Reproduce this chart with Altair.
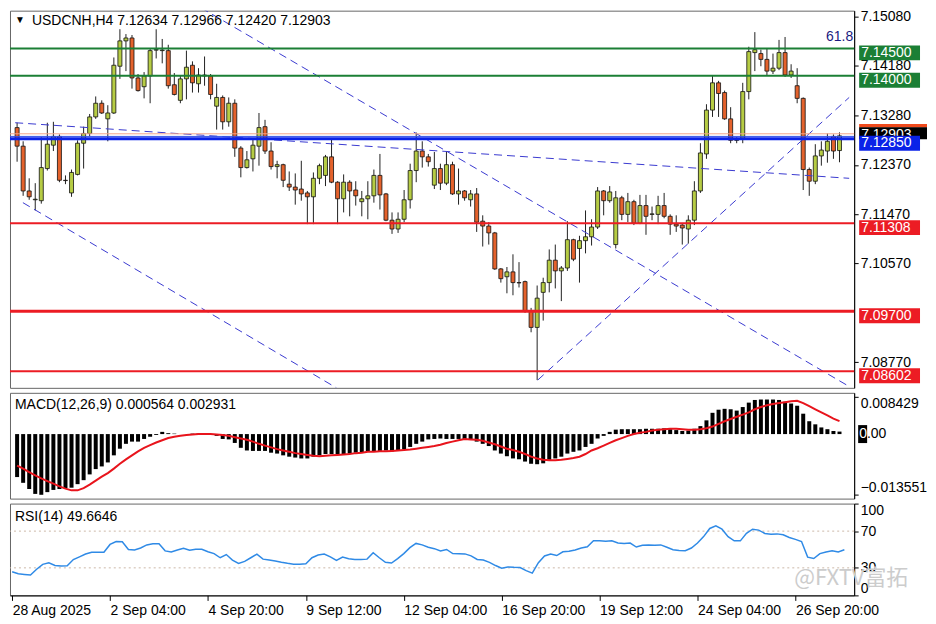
import altair as alt
import pandas as pd

FONT = "Liberation Sans"

# ---------------- data ----------------
opens = [7.13053, 7.12714, 7.11896, 7.11735, 7.11718, 7.12305, 7.12732, 7.12892, 7.12091, 7.11860,
         7.12198, 7.12768, 7.12946, 7.13248, 7.13498, 7.13213, 7.13320, 7.14174, 7.14637, 7.14690,
         7.13960, 7.13800, 7.13996, 7.14468, 7.14459, 7.14459, 7.13836, 7.13551, 7.13943, 7.14192,
         7.13854, 7.13996, 7.13996, 7.13444, 7.13604, 7.13159, 7.13498, 7.12679, 7.12323, 7.12483,
         7.12714, 7.13070, 7.12625, 7.12341, 7.12376, 7.12020, 7.11967, 7.11931, 7.11860, 7.11789,
         7.12127, 7.12180, 7.12519, 7.12056, 7.11753, 7.12056, 7.11913, 7.11700, 7.11753, 7.11807,
         7.12180, 7.11842, 7.11362, 7.11201, 7.11379, 7.11735, 7.12269, 7.12625, 7.12519, 7.12002,
         7.12305, 7.12038, 7.12376, 7.11842, 7.11896, 7.11735, 7.11842, 7.11344, 7.11255, 7.11130,
         7.10472, 7.10329, 7.10418, 7.10222, 7.10240, 7.09706, 7.09404, 7.10044, 7.10222, 7.10632,
         7.10436, 7.10489, 7.11006, 7.10845, 7.10988, 7.11059, 7.11237, 7.11896, 7.11718, 7.10917,
         7.11771, 7.11468, 7.11700, 7.11308, 7.11629, 7.11468, 7.11468, 7.11629, 7.11433, 7.11290,
         7.11273, 7.11201, 7.11362, 7.11896, 7.12572, 7.13373, 7.13871, 7.13693, 7.13213, 7.12821,
         7.12839, 7.13711, 7.14423, 7.14405, 7.14299, 7.14085, 7.14138, 7.14423, 7.14014, 7.13818,
         7.13587, 7.12287, 7.12074, 7.12536, 7.12625, 7.12892, 7.12634]
highs = [7.13142, 7.12803, 7.12127, 7.12038, 7.12875, 7.13142, 7.13159, 7.12928, 7.12180, 7.12287,
         7.12821, 7.13070, 7.13302, 7.13622, 7.13551, 7.13462, 7.14334, 7.14850, 7.14761, 7.14744,
         7.14032, 7.14067, 7.14494, 7.14850, 7.14672, 7.14566, 7.14049, 7.13996, 7.14459, 7.14263,
         7.14138, 7.14352, 7.14032, 7.13854, 7.13640, 7.13604, 7.13569, 7.12714, 7.12625, 7.12839,
         7.13320, 7.13195, 7.12786, 7.12447, 7.12394, 7.12252, 7.12216, 7.12447, 7.11896, 7.12234,
         7.12394, 7.12554, 7.12839, 7.12074, 7.12198, 7.12091, 7.12074, 7.11896, 7.12074, 7.12287,
         7.12572, 7.11860, 7.11504, 7.11504, 7.11913, 7.12394, 7.12964, 7.12803, 7.12572, 7.12608,
         7.12394, 7.12625, 7.12430, 7.12305, 7.11913, 7.11913, 7.11949, 7.11451, 7.11326, 7.11148,
         7.10489, 7.10507, 7.10739, 7.10596, 7.10258, 7.09760, 7.10169, 7.10311, 7.10828, 7.10917,
         7.10525, 7.11344, 7.11023, 7.11077, 7.11540, 7.11379, 7.11967, 7.11913, 7.11985, 7.11896,
         7.11807, 7.11860, 7.11735, 7.11824, 7.11824, 7.11611, 7.11807, 7.11860, 7.11468, 7.11451,
         7.11290, 7.11451, 7.12074, 7.12768, 7.13480, 7.13996, 7.13907, 7.13729, 7.13426, 7.12875,
         7.13871, 7.14530, 7.14797, 7.14477, 7.14494, 7.14405, 7.14655, 7.14708, 7.14210, 7.14138,
         7.13604, 7.12323, 7.12750, 7.12803, 7.12946, 7.12928, 7.12966]
lows = [7.12430, 7.11807, 7.11735, 7.11540, 7.11664, 7.12269, 7.12625, 7.12056, 7.12020, 7.11789,
        7.12180, 7.12305, 7.12892, 7.13213, 7.13302, 7.12803, 7.13302, 7.13943, 7.14085, 7.13765,
        7.13711, 7.13587, 7.13498, 7.14316, 7.14227, 7.13765, 7.13640, 7.13498, 7.13569, 7.13693,
        7.13693, 7.13818, 7.13569, 7.13017, 7.13017, 7.13070, 7.12519, 7.12145, 7.12305, 7.12252,
        7.12358, 7.12572, 7.12287, 7.12127, 7.11967, 7.11896, 7.11646, 7.11718, 7.11290, 7.11290,
        7.12020, 7.11985, 7.12038, 7.11290, 7.11504, 7.11433, 7.11629, 7.11433, 7.11379, 7.11682,
        7.11557, 7.11344, 7.11112, 7.11130, 7.11326, 7.11575, 7.12056, 7.12323, 7.12341, 7.11931,
        7.11913, 7.12002, 7.11824, 7.11646, 7.11718, 7.11611, 7.11148, 7.10881, 7.10917, 7.10454,
        7.10222, 7.10027, 7.09991, 7.10133, 7.09671, 7.09315, 7.08442, 7.09528, 7.10044, 7.10116,
        7.09884, 7.10436, 7.10614, 7.10222, 7.10756, 7.10899, 7.11201, 7.11451, 7.11682, 7.10845,
        7.11362, 7.11326, 7.11273, 7.11290, 7.11095, 7.11362, 7.11290, 7.11397, 7.11095, 7.11148,
        7.10917, 7.10934, 7.11273, 7.11860, 7.12483, 7.13248, 7.13248, 7.13195, 7.12768, 7.12768,
        7.12768, 7.13569, 7.14085, 7.14174, 7.14014, 7.14032, 7.14103, 7.13978, 7.13960, 7.13498,
        7.11913, 7.11807, 7.12020, 7.12358, 7.12412, 7.12483, 7.12420]
closes = [7.12714, 7.11896, 7.11789, 7.11745, 7.12323, 7.12750, 7.12892, 7.12091, 7.12085, 7.12234,
          7.12768, 7.12946, 7.13248, 7.13498, 7.13320, 7.13320, 7.14192, 7.14637, 7.14690, 7.13960,
          7.13729, 7.13996, 7.14459, 7.14477, 7.14470, 7.13818, 7.13658, 7.13943, 7.14156, 7.13871,
          7.14014, 7.14014, 7.13658, 7.13604, 7.13159, 7.13498, 7.12679, 7.12323, 7.12465, 7.12732,
          7.13053, 7.12625, 7.12341, 7.12376, 7.12091, 7.11967, 7.11913, 7.11842, 7.11789, 7.12127,
          7.12358, 7.12519, 7.12056, 7.11753, 7.12056, 7.11896, 7.11807, 7.11753, 7.11807, 7.12180,
          7.11824, 7.11362, 7.11201, 7.11379, 7.11735, 7.12269, 7.12625, 7.12519, 7.12430, 7.12305,
          7.12038, 7.12376, 7.11842, 7.11896, 7.11771, 7.11842, 7.11326, 7.11255, 7.11130, 7.10472,
          7.10294, 7.10418, 7.10222, 7.10217, 7.09706, 7.09404, 7.09938, 7.10222, 7.10632, 7.10436,
          7.10489, 7.11006, 7.10650, 7.10988, 7.11059, 7.11237, 7.11896, 7.11718, 7.11878, 7.11771,
          7.11468, 7.11700, 7.11308, 7.11629, 7.11433, 7.11477, 7.11629, 7.11433, 7.11290, 7.11255,
          7.11219, 7.11362, 7.11896, 7.12590, 7.13373, 7.13871, 7.13676, 7.13213, 7.12821, 7.12830,
          7.13711, 7.14441, 7.14477, 7.14299, 7.14085, 7.14138, 7.14423, 7.14014, 7.14085, 7.13587,
          7.12287, 7.12074, 7.12536, 7.12643, 7.12803, 7.12625, 7.12903]

macd_hist = [-0.0097, -0.0110, -0.0124, -0.0135, -0.0137, -0.0131, -0.0126, -0.0124, -0.0122, -0.0121,
             -0.0113, -0.0104, -0.0091, -0.0079, -0.0073, -0.0064, -0.0048, -0.0033, -0.0022, -0.0017,
             -0.0017, -0.0011, -0.0006, -0.0002, 0.0005, 0.0002, 0.0001, 0.0000, 0.0000, 0.0001,
             0.0001, 0.0000, -0.0001, -0.0004, -0.0011, -0.0012, -0.0020, -0.0031, -0.0037, -0.0038,
             -0.0038, -0.0038, -0.0042, -0.0044, -0.0048, -0.0051, -0.0053, -0.0055, -0.0055, -0.0051,
             -0.0048, -0.0045, -0.0045, -0.0045, -0.0045, -0.0044, -0.0042, -0.0042, -0.0040, -0.0039,
             -0.0038, -0.0037, -0.0039, -0.0038, -0.0034, -0.0029, -0.0022, -0.0017, -0.0012, -0.0011,
             -0.0010, -0.0011, -0.0011, -0.0011, -0.0011, -0.0012, -0.0017, -0.0022, -0.0027, -0.0037,
             -0.0044, -0.0050, -0.0055, -0.0057, -0.0062, -0.0067, -0.0068, -0.0066, -0.0058, -0.0055,
             -0.0051, -0.0044, -0.0040, -0.0037, -0.0029, -0.0022, -0.0010, -0.0004, 0.0005, 0.0010,
             0.0011, 0.0011, 0.0011, 0.0011, 0.0012, 0.0012, 0.0012, 0.0013, 0.0011, 0.0009,
             0.0007, 0.0008, 0.0012, 0.0018, 0.0031, 0.0048, 0.0055, 0.0057, 0.0056, 0.0053,
             0.0061, 0.0071, 0.0077, 0.0078, 0.0078, 0.0078, 0.0077, 0.0073, 0.0069, 0.0064,
             0.0046, 0.0029, 0.0022, 0.0015, 0.0011, 0.0007, 0.000564]
macd_signal = [-0.0071, -0.0078, -0.0086, -0.0093, -0.0100, -0.0106, -0.0112, -0.0118, -0.0123, -0.0127,
               -0.0127, -0.0122, -0.0114, -0.0105, -0.0096, -0.0088, -0.0078, -0.0067, -0.0057, -0.0048,
               -0.0039, -0.0031, -0.0025, -0.0019, -0.0014, -0.0009, -0.0006, -0.0004, -0.0002, -0.0001,
               0.0000, 0.0000, 0.0000, -0.0001, -0.0002, -0.0004, -0.0007, -0.0010, -0.0013, -0.0017,
               -0.0022, -0.0026, -0.0030, -0.0034, -0.0037, -0.0040, -0.0043, -0.0045, -0.0047, -0.0049,
               -0.0050, -0.0049, -0.0048, -0.0047, -0.0046, -0.0045, -0.0043, -0.0042, -0.0040, -0.0040,
               -0.0039, -0.0039, -0.0038, -0.0037, -0.0036, -0.0035, -0.0033, -0.0031, -0.0029, -0.0027,
               -0.0024, -0.0020, -0.0017, -0.0014, -0.0011, -0.0012, -0.0013, -0.0015, -0.0019, -0.0023,
               -0.0028, -0.0033, -0.0036, -0.0040, -0.0045, -0.0051, -0.0055, -0.0058, -0.0059, -0.0059,
               -0.0058, -0.0056, -0.0054, -0.0051, -0.0045, -0.0037, -0.0032, -0.0026, -0.0020, -0.0014,
               -0.0009, -0.0004, 0.0000, 0.0003, 0.0005, 0.0008, 0.0010, 0.0011, 0.0012, 0.0012,
               0.0011, 0.0010, 0.0010, 0.0011, 0.0013, 0.0017, 0.0023, 0.0029, 0.0034, 0.0039,
               0.0044, 0.0049, 0.0056, 0.0061, 0.0065, 0.0068, 0.0070, 0.0072, 0.0074, 0.0075,
               0.0070, 0.0063, 0.0056, 0.0049, 0.0042, 0.0035, 0.002931]
rsi_values = [25.7, 23.5, 22.8, 22.2, 28.5, 33.8, 35.5, 32.5, 32.1, 32.2,
              39.0, 42.0, 45.0, 47.0, 47.0, 47.0, 55.5, 58.7, 58.4, 50.0,
              49.5, 51.6, 55.0, 56.2, 56.2, 48.5, 47.3, 49.5, 51.3, 49.1,
              50.2, 50.3, 47.5, 45.5, 41.0, 44.5, 38.5, 34.9, 37.0, 41.0,
              45.0, 39.5, 38.5, 37.4, 36.0, 34.9, 34.0, 33.8, 34.5, 41.0,
              44.0, 45.0, 42.0, 38.1, 41.7, 40.0, 39.0, 39.0, 39.5, 46.5,
              41.0, 36.0, 35.2, 40.0, 45.5, 52.0, 56.6, 55.0, 52.5, 50.9,
              48.5, 50.0, 45.5, 45.3, 45.2, 43.0, 39.1, 38.5, 36.0, 32.5,
              29.6, 31.0, 30.6, 30.4, 27.0, 24.3, 35.6, 43.0, 45.0, 43.4,
              47.5, 48.0, 49.5, 51.6, 53.0, 59.5, 59.5, 58.9, 59.4, 57.0,
              56.4, 57.0, 52.7, 54.5, 55.0, 54.5, 55.0, 52.5, 49.8, 49.0,
              48.7, 51.6, 57.0, 64.0, 72.9, 75.7, 72.1, 64.0, 59.4, 59.4,
              67.6, 72.1, 71.1, 67.5, 66.5, 67.0, 66.0, 63.0, 61.0, 58.7,
              41.7, 40.2, 45.5, 47.3, 48.7, 47.3, 49.66]
bar_index = list(range(len(opens)))

tick_idx = [0, 16, 32, 48, 64, 80, 96, 112, 128]
tick_labels = ["28 Aug 2025", "2 Sep 04:00", "4 Sep 20:00", "9 Sep 12:00", "12 Sep 04:00",
               "16 Sep 20:00", "19 Sep 12:00", "24 Sep 04:00", "26 Sep 20:00"]
price_ticks = [7.15080, 7.14180, 7.13280, 7.12370, 7.11470, 7.10570, 7.08770]

level_prices = [7.14500, 7.14000, 7.12850, 7.11308, 7.09700, 7.08602]
level_colors = ["#1b7f35", "#1b7f35", "#0a22e8", "#ec1c24", "#ec1c24", "#ec1c24"]
level_widths = [2, 2, 3, 2, 3, 2]

bid_price = 7.12903
ask_line_price = 7.12940
thin_blue_price = 7.12892

trend_names = ["A", "A", "B", "B", "C", "C", "D", "D"]
trend_idx = [30.4, 137.6, 0.96, 52.8, -0.32, 137.6, 86.1, 137.6]
trend_price = [7.15242, 7.08325, 7.11682, 7.08300, 7.13142, 7.12127, 7.08442, 7.13604]

macd_ticks = [0.008429, -0.013551]
rsi_ticks = [100, 70, 30, 0]
rsi_levels = [70, 30]

header_text = "USDCNH,H4  7.12634 7.12966 7.12420 7.12903"
macd_title = "MACD(12,26,9) 0.000564 0.002931"
rsi_title = "RSI(14) 49.6646"
fib_text = "61.8"
watermark = "@FXTV富拓"

# ---------------- layout ----------------
W = 846
H_MAIN, H_MACD, H_RSI = 378, 106, 92
BULL, BEAR = "#b6cc44", "#e4622c"

df = pd.DataFrame({"i": bar_index, "o": opens, "h": highs, "l": lows, "c": closes,
                   "hist": macd_hist, "sig": macd_signal, "rsi": rsi_values})

xs = alt.Scale(domain=[-0.35, 137.6], nice=False, zero=False)


def xenc():
    return alt.X("i:Q", scale=xs, axis=None)


axis_common = dict(grid=False, title=None, domainColor="#000", tickColor="#000", tickSize=4,
                   labelPadding=2, labelFont=FONT, labelFontSize=14, labelColor="#000",
                   labelOverlap=False)
price_axis = alt.Axis(orient="right", values=price_ticks, format=".5f", **axis_common)
ps = alt.Scale(domain=[7.08300, 7.15189], nice=False, zero=False)


def pY(field):
    return alt.Y(field, scale=ps, axis=price_axis)


wicks = alt.Chart(df).mark_rule(color="#222", strokeWidth=1).encode(x=xenc(), y=pY("l:Q"), y2="h:Q")
bodies = alt.Chart(df).mark_bar(size=4, orient="vertical", stroke="#111", strokeWidth=0.8, opacity=1).encode(
    x=xenc(), y=pY("o:Q"), y2="c:Q",
    color=alt.condition("datum.c >= datum.o", alt.value(BULL), alt.value(BEAR)))

tdf = pd.DataFrame({"line": trend_names, "i": trend_idx, "p": trend_price})
trends = alt.Chart(tdf).mark_line(color="#3a3ad0", strokeWidth=1, strokeDash=[8, 5], clip=True).encode(
    x=xenc(), y=pY("p:Q"), detail="line:N")

ldf = pd.DataFrame({"p": level_prices, "col": level_colors, "w": level_widths,
                    "lab": [f"{v:.5f}" for v in level_prices]})
lrules = alt.Chart(ldf).mark_rule().encode(
    y=pY("p:Q"), color=alt.Color("col:N", scale=None), strokeWidth=alt.StrokeWidth("w:Q", scale=None))

bdf = pd.DataFrame({"p": [bid_price], "lab": [f"{bid_price:.5f}"]})
ask_rule = alt.Chart(pd.DataFrame({"p": [ask_line_price]})).mark_rule(color="#f2a48a", strokeWidth=1).encode(y=pY("p:Q"))
thin_rule = alt.Chart(pd.DataFrame({"p": [thin_blue_price]})).mark_rule(color="#3050e8", strokeWidth=1).encode(y=pY("p:Q"))
bid_stripe = alt.Chart(bdf).mark_tick(orient="horizontal", size=68, thickness=3.5, yOffset=-10, color="#f04a1c", opacity=1, clip=False).encode(
    x=alt.value(W + 39), y=pY("p:Q"))
bid_box = alt.Chart(bdf).mark_tick(orient="horizontal", size=68, thickness=12, yOffset=-2.5, color="#000", opacity=1, clip=False).encode(
    x=alt.value(W + 39), y=pY("p:Q"))
bid_text = alt.Chart(bdf).mark_text(align="left", baseline="middle", dy=-1, font=FONT, fontSize=14, color="white").encode(
    x=alt.value(W + 7), y=pY("p:Q"), text="lab:N")

lbox = alt.Chart(ldf).mark_tick(orient="horizontal", size=61, thickness=15, yOffset=4.5, opacity=1, clip=False).encode(
    x=alt.value(W + 35.5), y=pY("p:Q"), color=alt.Color("col:N", scale=None))
ltext = alt.Chart(ldf).mark_text(align="left", baseline="middle", dy=4.5, font=FONT, fontSize=14, color="white").encode(
    x=alt.value(W + 7), y=pY("p:Q"), text="lab:N")

fib = alt.Chart(pd.DataFrame({"p": [level_prices[0]], "t": [fib_text]})).mark_text(
    align="right", baseline="middle", dy=-11, font=FONT, fontSize=14, color="#1a1a80").encode(
    x=alt.value(W - 1), y=pY("p:Q"), text="t:N")

hdr = alt.Chart(pd.DataFrame({"t": [header_text]})).mark_text(
    align="left", baseline="middle", font=FONT, fontSize=14, color="#000").encode(
    x=alt.value(22), y=alt.value(10), text="t:N")
tri = alt.Chart(pd.DataFrame({"t": ["▼"]})).mark_text(
    align="left", baseline="middle", font=FONT, fontSize=10, color="#000").encode(
    x=alt.value(5), y=alt.value(9), text="t:N")

main = alt.layer(wicks, bodies, trends, ask_rule, thin_rule, lrules, bid_stripe, bid_box, bid_text,
                 lbox, ltext, fib, hdr, tri).properties(width=W, height=H_MAIN)

# ---------------- MACD ----------------
ms = alt.Scale(domain=[-0.01456, 0.00931], nice=False, zero=False)
macd_axis = alt.Axis(orient="right", values=macd_ticks, format=".6f",
                     labelBaseline={"condition": {"test": "datum.value > 0", "value": "top"}, "value": "bottom"},
                     **axis_common)
hist = alt.Chart(df).mark_bar(size=4, orient="vertical", color="#000", opacity=1).encode(
    x=xenc(), y=alt.Y("hist:Q", scale=ms, axis=macd_axis), y2=alt.datum(0))
sig = alt.Chart(df).mark_line(color="#e8141c", strokeWidth=2).encode(
    x=xenc(), y=alt.Y("sig:Q", scale=ms, axis=macd_axis))
zdf = pd.DataFrame({"v": [0.0], "a": ["0"], "b": [".00"]})
zbox = alt.Chart(zdf).mark_tick(orient="horizontal", size=9, thickness=18, color="#000", opacity=1, clip=False).encode(
    x=alt.value(W + 8.5), y=alt.Y("v:Q", scale=ms, axis=macd_axis))
za = alt.Chart(zdf).mark_text(align="left", baseline="middle", font=FONT, fontSize=14, color="white").encode(
    x=alt.value(W + 5), y=alt.Y("v:Q", scale=ms, axis=macd_axis), text="a:N")
zb = alt.Chart(zdf).mark_text(align="left", baseline="middle", font=FONT, fontSize=14, color="#000").encode(
    x=alt.value(W + 12.8), y=alt.Y("v:Q", scale=ms, axis=macd_axis), text="b:N")
mt = alt.Chart(pd.DataFrame({"t": [macd_title]})).mark_text(
    align="left", baseline="middle", font=FONT, fontSize=14, color="#000").encode(
    x=alt.value(5), y=alt.value(12), text="t:N")
macd = alt.layer(hist, sig, zbox, za, zb, mt).properties(width=W, height=H_MACD)

# ---------------- RSI ----------------
rs = alt.Scale(domain=[0, 100], nice=False, zero=False)
rsi_axis = alt.Axis(orient="right", values=rsi_ticks, labelFlush=True, **axis_common)
label_expr = "[" + ",".join(f"'{t}'" for t in tick_labels) + "][round(datum.value / 16)]"
x_axis = alt.Axis(orient="bottom", values=tick_idx, labelExpr=label_expr, labelAlign="left",
                  labelPadding=3, tickSize=5, tickColor="#000", domainColor="#000", grid=False,
                  title=None, labelFont=FONT, labelFontSize=14, labelColor="#000",
                  labelFlush=False, labelOverlap=False, labelBound=False)
rline = alt.Chart(df).mark_line(color="#2f8ae6", strokeWidth=1.5).encode(
    x=alt.X("i:Q", scale=xs, axis=x_axis), y=alt.Y("rsi:Q", scale=rs, axis=rsi_axis))
rlev = alt.Chart(pd.DataFrame({"v": rsi_levels})).mark_rule(color="#ccb8a8", strokeDash=[2, 3], strokeWidth=1).encode(
    y=alt.Y("v:Q", scale=rs, axis=rsi_axis))
rt = alt.Chart(pd.DataFrame({"t": [rsi_title]})).mark_text(
    align="left", baseline="middle", font=FONT, fontSize=14, color="#000").encode(
    x=alt.value(5), y=alt.value(13), text="t:N")
wm = alt.Chart(pd.DataFrame({"t": [watermark]})).mark_text(
    align="left", baseline="middle", font="Noto Sans CJK SC", fontSize=22, color="#cccccc").encode(
    x=alt.value(W - 60), y=alt.value(H_RSI - 17), text="t:N")
rsi = alt.layer(rlev, rline, rt, wm).properties(width=W, height=H_RSI)

chart = alt.vconcat(main, macd, rsi, spacing=3, padding=0).configure(
    background="white").configure_view(stroke="#666666", strokeWidth=1)

chart.save("out.html", embed_options={"renderer": "svg", "actions": False})
